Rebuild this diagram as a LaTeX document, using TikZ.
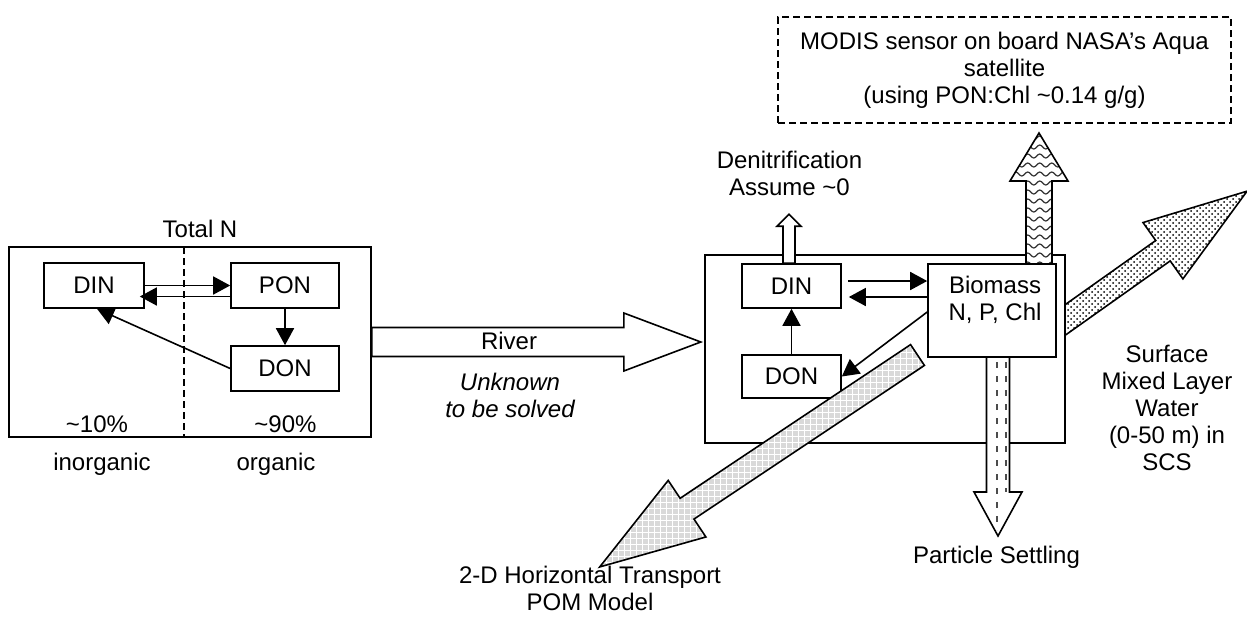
\documentclass[tikz,border=0pt]{standalone}
\usepackage{fontspec}
\setmainfont{Liberation Sans}
\usetikzlibrary{arrows.meta,patterns,decorations.pathmorphing}

% block arrow outline: length, half body, half head, head length
\newcommand\bigarrowpath[4]{(0,-#2) -- ({#1-#4},-#2) -- ({#1-#4},-#3) -- (#1,0) -- ({#1-#4},#3) -- ({#1-#4},#2) -- (0,#2) -- cycle}

\tikzset{
  box/.style={draw, fill=white, inner sep=0pt},
  txt/.style={align=center, inner sep=0pt},
  tip/.style={-{Triangle[length=8.5pt,width=9pt]}},
  cutline/.style={dash pattern=on 3.5pt off 2pt},
  wave/.style={line width=0.6pt, black!80, decorate, decoration={snake, amplitude=1pt, segment length=6pt}},
  settle/.style={line width=1.2pt, gray!60!black, dash pattern=on 3pt off 4pt},
}

\begin{document}
\fontsize{12}{13.5}\selectfont
\begin{tikzpicture}[x=0.5pt, y=-0.5pt, line width=0.8pt]
\useasboundingbox (0,0) rectangle (1247,616);

% Total N
\node[box, minimum width=181pt, minimum height=95pt] (totn) at (190,342) {};
\draw[cutline] (184,247) -- (184,437);
\node[txt] (totlbl) at (200,229.25) {Total N};
\node[box, minimum width=50pt, minimum height=22.5pt] (ldin) at (94,285.5) {DIN};
\node[box, minimum width=54pt, minimum height=22.5pt] (lpon) at (285,285.5) {PON};
\node[box, minimum width=54pt, minimum height=22.5pt] (ldon) at (285,368.5) {DON};
\draw[tip] (ldin.east) -- (lpon.west);
\draw[tip] ([yshift=-5.5pt]lpon.west) -- ([xshift=-2.5pt,yshift=-5.5pt]ldin.east);
\draw[tip] (lpon.south) -- (ldon.north);
\draw[tip] (ldon.west) -- ([xshift=1.5pt]ldin.south);
\node[txt] (inpct) at (97,424.5) {\textasciitilde10\%};
\node[txt] (orgpct) at (285.5,424.5) {\textasciitilde90\%};
\node[txt] (inlbl) at (102,463.9) {inorganic};
\node[txt] (orglbl) at (276,463.9) {organic};

% river input
\draw[fill=white, shift={(totn.east)}] \bigarrowpath{329}{14.5}{29}{77};
\node[txt] (river) at (509,341.4) {River};
\node[txt, font=\itshape] (unknown) at (510,395.75) {Unknown\\to be solved};

% export to the open sea
\draw[pattern=crosshatch dots, shift={(1048.7,331.6)}, rotate=35.3] \bigarrowpath{243}{12.5}{34.5}{103};

% surface mixed layer
\node[box, minimum width=180pt, minimum height=94pt] (sml) at (885,349) {};
\node[box, minimum width=49.5pt, minimum height=22pt] (rdin) at (791.5,286) {DIN};
\node[box, minimum width=49.5pt, minimum height=21.5pt] (rdon) at (791.5,376.5) {DON};
\draw[fill=white, shift={([xshift=-1.25pt]rdin.north)}, rotate=90] \bigarrowpath{49}{6}{12}{12};
\node[txt] (denit) at (789.5,173.75) {Denitrification\\Assume \textasciitilde0};

\draw[preaction={fill=gray!30}, pattern=grid, pattern color=white, shift={(917.5,355)}, rotate=213.7] \bigarrowpath{382}{12.5}{34}{105};
\node[txt] (pom) at (590,588.25) {\fontsize{12}{12}\selectfont 2-D Horizontal Transport\\POM Model};

% satellite
\begin{scope}
  \clip[shift={(1039,270)}, rotate=90] \bigarrowpath{137}{13}{29}{48};
  \fill[white] (1000,120) rectangle (1080,275);
  \foreach \yy in {138,147,...,274} \draw[wave] (1000,\yy) -- (1080,\yy);
\end{scope}
\draw[shift={(1039,270)}, rotate=90] \bigarrowpath{137}{13}{29}{48};
\node[box, cutline, minimum width=226.5pt, minimum height=53pt, align=center] (modis) at (1004.5,70)
  {MODIS sensor on board NASA’s Aqua\\satellite\\(using PON:Chl \textasciitilde0.14 g/g)};

% settling
\draw[fill=white, shift={(998,352)}, rotate=-90] \bigarrowpath{184}{11.5}{24}{44};
\draw[settle] (997,362) -- (997,530);
\draw[settle] (1006,362) -- (1006,492);
\node[txt] (settlbl) at (996.5,557.4) {Particle Settling};

\node[box, minimum width=64pt, minimum height=46.5pt] (bio) at (992,310.5) {};
\node[txt] (biolbl) at (995,300.2) {\fontsize{12}{12}\selectfont Biomass\\N, P, Chl};
\draw[tip] ([xshift=3pt,yshift=2.5pt]rdin.east) -- ([yshift=14.75pt]bio.west);
\draw[tip] ([yshift=6.75pt]bio.west) -- ([xshift=3.5pt,yshift=-5.5pt]rdin.east);
\draw[tip] ([yshift=-0.75pt]bio.west) -- (rdon.east);
\draw[tip] (rdon.north) -- (rdin.south);

\node[txt] (smllbl) at (1167,407.5) {Surface\\Mixed Layer\\Water\\(0-50 m) in\\SCS};
\end{tikzpicture}
\end{document}
